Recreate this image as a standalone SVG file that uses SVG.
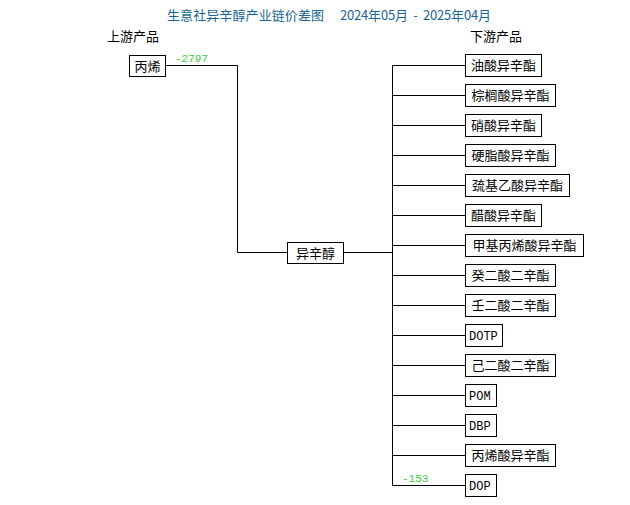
<svg xmlns="http://www.w3.org/2000/svg" width="630" height="505" viewBox="0 0 630 505">
<style>
.bg{fill:#ffffff}
.box{fill:#ffffff;stroke:#000000;stroke-width:1}
.cn{font-family:"Noto Sans CJK SC","Noto Sans CJK JP",sans-serif;font-size:13px;fill:#000000}
.lat{font-family:"Liberation Mono",monospace;font-size:12px;fill:#000000}
.val{font-family:"Liberation Mono",monospace;font-size:11px;fill:#3ccc3c}
.title{font-family:"Noto Sans CJK SC",sans-serif;font-size:13px;fill:#1a6592}
.link{fill:none;stroke:#000000;stroke-width:1}
</style>
<rect class="bg" x="0" y="0" width="630" height="505"/>
<text class="title" x="167" y="20" textLength="157">生意社异辛醇产业链价差图</text>
<text class="title" x="340" y="20" textLength="151" xml:space="preserve">2024年05月  -  2025年04月</text>
<text class="cn" x="107" y="41">上游产品</text>
<text class="cn" x="470" y="41">下游产品</text>
<g id="connectors">
<polyline class="link" points="165,65.5 237.5,65.5 237.5,252.5 287,252.5"/>
<line class="link" x1="343" y1="252.5" x2="392.5" y2="252.5"/>
<line class="link" x1="392.5" y1="65.5" x2="392.5" y2="485.5"/>
<line class="link" x1="392.5" y1="65.5" x2="465" y2="65.5"/>
<line class="link" x1="392.5" y1="95.5" x2="465" y2="95.5"/>
<line class="link" x1="392.5" y1="125.5" x2="465" y2="125.5"/>
<line class="link" x1="392.5" y1="155.5" x2="465" y2="155.5"/>
<line class="link" x1="392.5" y1="185.5" x2="465" y2="185.5"/>
<line class="link" x1="392.5" y1="215.5" x2="465" y2="215.5"/>
<line class="link" x1="392.5" y1="245.5" x2="465" y2="245.5"/>
<line class="link" x1="392.5" y1="275.5" x2="465" y2="275.5"/>
<line class="link" x1="392.5" y1="305.5" x2="465" y2="305.5"/>
<line class="link" x1="392.5" y1="335.5" x2="465" y2="335.5"/>
<line class="link" x1="392.5" y1="365.5" x2="465" y2="365.5"/>
<line class="link" x1="392.5" y1="395.5" x2="465" y2="395.5"/>
<line class="link" x1="392.5" y1="425.5" x2="465" y2="425.5"/>
<line class="link" x1="392.5" y1="455.5" x2="465" y2="455.5"/>
<line class="link" x1="392.5" y1="485.5" x2="465" y2="485.5"/>
<text class="val" x="175" y="62">-2797</text>
<text class="val" x="402" y="482">-153</text>
</g>
<g id="n-bingxi"><rect class="box" x="129.5" y="55.5" width="36" height="21"/><text class="cn" x="147.5" y="70.5" text-anchor="middle">丙烯</text></g>
<g id="n-yixinchun"><rect class="box" x="287.5" y="242.5" width="56" height="21"/><text class="cn" x="315.5" y="257.5" text-anchor="middle">异辛醇</text></g>
<g id="d1"><rect class="box" x="465.5" y="54.5" width="76" height="22"/><text class="cn" x="503.5" y="70" text-anchor="middle">油酸异辛酯</text></g>
<g id="d2"><rect class="box" x="465.5" y="84.5" width="90" height="22"/><text class="cn" x="510.5" y="100" text-anchor="middle">棕榈酸异辛酯</text></g>
<g id="d3"><rect class="box" x="465.5" y="114.5" width="76" height="22"/><text class="cn" x="503.5" y="130" text-anchor="middle">硝酸异辛酯</text></g>
<g id="d4"><rect class="box" x="465.5" y="144.5" width="90" height="22"/><text class="cn" x="510.5" y="160" text-anchor="middle">硬脂酸异辛酯</text></g>
<g id="d5"><rect class="box" x="465.5" y="174.5" width="104" height="22"/><text class="cn" x="517.5" y="190" text-anchor="middle">巯基乙酸异辛酯</text></g>
<g id="d6"><rect class="box" x="465.5" y="204.5" width="76" height="22"/><text class="cn" x="503.5" y="220" text-anchor="middle">醋酸异辛酯</text></g>
<g id="d7"><rect class="box" x="465.5" y="234.5" width="118" height="22"/><text class="cn" x="524.5" y="250" text-anchor="middle">甲基丙烯酸异辛酯</text></g>
<g id="d8"><rect class="box" x="465.5" y="264.5" width="90" height="22"/><text class="cn" x="510.5" y="280" text-anchor="middle">癸二酸二辛酯</text></g>
<g id="d9"><rect class="box" x="465.5" y="294.5" width="90" height="22"/><text class="cn" x="510.5" y="310" text-anchor="middle">壬二酸二辛酯</text></g>
<g id="d10"><rect class="box" x="465.5" y="324.5" width="37" height="22"/><text class="lat" x="469" y="340">DOTP</text></g>
<g id="d11"><rect class="box" x="465.5" y="354.5" width="90" height="22"/><text class="cn" x="510.5" y="370" text-anchor="middle">己二酸二辛酯</text></g>
<g id="d12"><rect class="box" x="465.5" y="384.5" width="31" height="22"/><text class="lat" x="469" y="400">POM</text></g>
<g id="d13"><rect class="box" x="465.5" y="414.5" width="31" height="22"/><text class="lat" x="469" y="430">DBP</text></g>
<g id="d14"><rect class="box" x="465.5" y="444.5" width="90" height="22"/><text class="cn" x="510.5" y="460" text-anchor="middle">丙烯酸异辛酯</text></g>
<g id="d15"><rect class="box" x="465.5" y="474.5" width="31" height="22"/><text class="lat" x="469" y="490">DOP</text></g>
</svg>
